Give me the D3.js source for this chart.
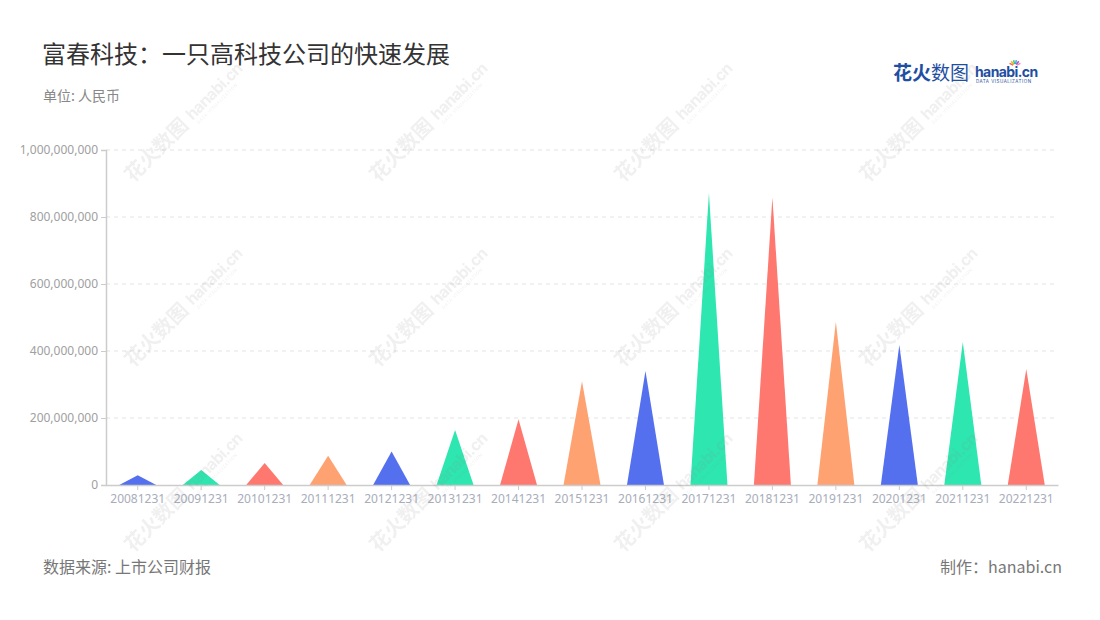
<!DOCTYPE html>
<html><head><meta charset="utf-8">
<script src="https://cdn.jsdelivr.net/npm/d3@7"></script>
<style>
body{margin:0;background:#fff;font-family:"Noto Sans CJK SC","Noto Sans",sans-serif;}
</style></head>
<body><svg id="c" width="1100" height="620"></svg>
<script>
const categories = ["20081231","20091231","20101231","20111231","20121231","20131231","20141231","20151231","20161231","20171231","20181231","20191231","20201231","20211231","20221231"];
const values = [29000000,45000000,66000000,87000000,100000000,164000000,196000000,310000000,340000000,872000000,859000000,487000000,418000000,427000000,346000000];
const yTicks = [0,200000000,400000000,600000000,800000000,1000000000];
const palette = ["#5570EE","#2EE6B0","#FF7870","#FFA272"];

const svg = d3.select("#c");
const m = {l:106, r:1058, t:150, b:485};
const x = d3.scaleBand().domain(categories).range([m.l, m.r]);
const y = d3.scaleLinear().domain([0,1000000000]).range([m.b, m.t]);

// grid
svg.append("g").selectAll("line").data(yTicks.filter(d=>d>0)).join("line")
  .attr("x1",m.l).attr("x2",m.r).attr("y1",d=>y(d)).attr("y2",d=>y(d))
  .attr("stroke","#e3e3e3").attr("stroke-dasharray","4,4");

// triangles
const halfW = 18.5;
svg.append("g").selectAll("path").data(categories).join("path")
  .attr("d",(d,i)=>{
    const cx = x(d)+x.bandwidth()/2;
    return `M${cx-halfW},${y(0)}L${cx},${y(values[i])}L${cx+halfW},${y(0)}Z`;
  })
  .attr("fill",(d,i)=>palette[i%4]);

// y axis
const ya = svg.append("g").attr("transform",`translate(${m.l},0)`)
  .call(d3.axisLeft(y).tickValues(yTicks).tickFormat(d3.format(",")).tickSize(5).tickPadding(3));
ya.select(".domain").attr("stroke","#ccc").attr("stroke-width",1.5);
ya.selectAll(".tick line").attr("stroke","#ccc");
ya.selectAll("text").attr("fill","#a0a0a0").attr("font-size",12).attr("font-family","'Noto Sans',sans-serif");

// x axis
const xa = svg.append("g").attr("transform",`translate(0,${m.b})`)
  .call(d3.axisBottom(x).tickSize(5).tickPadding(4).tickSizeOuter(0));
xa.select(".domain").attr("stroke","#ccc").attr("stroke-width",1.5);
xa.selectAll(".tick line").attr("stroke","#ccc");
xa.selectAll("text").attr("fill","#a8adba").attr("font-size",12).attr("font-family","'Noto Sans',sans-serif");

// titles
svg.append("text").attr("x",42).attr("y",63).attr("font-size",24).attr("fill","#333").text("富春科技：一只高科技公司的快速发展");
svg.append("text").attr("x",43).attr("y",101).attr("font-size",14).attr("fill","#888").text("单位: 人民币");
svg.append("text").attr("x",43).attr("y",573).attr("font-size",16).attr("fill","#777").text("数据来源: 上市公司财报");
svg.append("text").attr("x",1062).attr("y",573).attr("font-size",16).attr("fill","#777").attr("text-anchor","end").text("制作：hanabi.cn");

// logo
const lg = svg.append("g").attr("transform","translate(893,80)");
lg.append("text").attr("x",0).attr("y",0).attr("font-size",19).attr("font-weight","bold").attr("fill","#1f4fa3").text("花火");
lg.append("text").attr("x",38).attr("y",0).attr("font-size",19).attr("fill","#1f4fa3").text("数图");
lg.append("text").attr("x",82).attr("y",-3).attr("font-size",14).attr("font-weight","bold").attr("fill","#1f4fa3").attr("font-family","Inter,sans-serif").attr("letter-spacing",-0.6).text("hanabi.cn");
lg.append("text").attr("x",83).attr("y",3).attr("font-size",4.5).attr("fill","#1f4fa3").attr("font-family","Inter,sans-serif").attr("letter-spacing",0.5).text("DATA VISUALIZATION");
const sc = ["#ff5a5a","#ffb400","#2ecc71","#3aa0ff","#9b59b6","#ff7ab0"];
sc.forEach((c,i)=>{
  const a = -Math.PI/2 + (i-2.5)*0.45;
  lg.append("line").attr("x1",122+Math.cos(a)*2).attr("y1",-14+Math.sin(a)*2).attr("x2",122+Math.cos(a)*6).attr("y2",-14+Math.sin(a)*6).attr("stroke",c).attr("stroke-width",1.5);
});

// watermark (on top)
const wm = svg.append("g").attr("fill","#8a8a8a").attr("opacity",0.13).attr("pointer-events","none");
[183,368,553].forEach(py=>[133,378,623,868].forEach(px=>{
  const g = wm.append("g").attr("transform",`translate(${px},${py}) rotate(-45)`);
  g.append("text").attr("x",0).attr("y",0).attr("font-size",20).attr("font-weight","bold").text("花火数图");
  g.append("text").attr("x",86).attr("y",-2).attr("font-size",16).attr("font-weight","bold").attr("font-family","Inter,sans-serif").attr("letter-spacing",-0.6).text("hanabi.cn");
  g.append("text").attr("x",88).attr("y",5).attr("font-size",4.5).attr("font-family","Inter,sans-serif").attr("letter-spacing",0.5).text("DATA VISUALIZATION");
}));
</script></body></html>
